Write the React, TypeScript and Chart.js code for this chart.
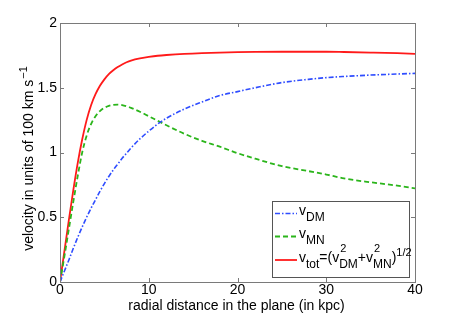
import React, { useEffect, useRef } from "react";
import { Chart, registerables } from "chart.js";

Chart.register(...registerables);

const radius = [0, 0.5, 1, 1.5, 2, 2.5, 3, 3.5, 4, 4.5, 5, 5.5, 6, 6.5, 7, 7.5, 8, 9, 10, 11, 12, 14, 16, 18, 20, 22, 25, 28, 30, 32, 35, 38, 40];
const vDM = [0, 0.085, 0.17, 0.26, 0.345, 0.425, 0.5, 0.57, 0.635, 0.7, 0.76, 0.815, 0.865, 0.91, 0.955, 0.995, 1.035, 1.105, 1.165, 1.22, 1.265, 1.335, 1.39, 1.44, 1.47, 1.5, 1.54, 1.565, 1.578, 1.587, 1.598, 1.606, 1.611];
const vMN = [0, 0.2, 0.41, 0.62, 0.82, 1.0, 1.13, 1.22, 1.28, 1.32, 1.345, 1.36, 1.368, 1.37, 1.366, 1.357, 1.345, 1.315, 1.28, 1.245, 1.21, 1.145, 1.09, 1.045, 0.995, 0.952, 0.895, 0.856, 0.83, 0.8, 0.77, 0.744, 0.723];
const vTot = [0, 0.24, 0.48, 0.71, 0.92, 1.1, 1.25, 1.365, 1.45, 1.515, 1.565, 1.605, 1.635, 1.66, 1.68, 1.697, 1.71, 1.727, 1.738, 1.747, 1.753, 1.762, 1.768, 1.772, 1.775, 1.777, 1.778, 1.778, 1.778, 1.776, 1.772, 1.767, 1.762];

const xTicks = [0, 10, 20, 30, 40];
const yTicks = [0, 0.5, 1, 1.5, 2];

const FONT = '"Liberation Sans", Arial, Helvetica, sans-serif';
const AXIS_COLOR = "#7a7a7a";
const BLUE = "#2f4dff";
const GREEN = "#2bb51b";
const RED = "#ff1a1a";

type Tok = { t: string; k: "n" | "sub" | "sup" | "ss"; sup?: string; sub?: string; off?: number };

function drawRich(ctx: CanvasRenderingContext2D, x: number, y: number, toks: Tok[]) {
  let cx = x;
  ctx.textBaseline = "alphabetic";
  ctx.textAlign = "left";
  ctx.fillStyle = "#000";
  for (const tk of toks) {
    if (tk.k === "n") {
      ctx.font = `14px ${FONT}`;
      ctx.fillText(tk.t, cx, y);
      cx += ctx.measureText(tk.t).width;
    } else if (tk.k === "sub") {
      ctx.font = `12px ${FONT}`;
      ctx.fillText(tk.t, cx, y + 6);
      cx += ctx.measureText(tk.t).width;
    } else if (tk.k === "sup") {
      ctx.font = `11px ${FONT}`;
      ctx.fillText(tk.t, cx, y + (tk.off ?? -6));
      cx += ctx.measureText(tk.t).width;
    } else {
      ctx.font = `11px ${FONT}`;
      ctx.fillText(tk.sup || "", cx + 1, y - 10);
      const w1 = ctx.measureText(tk.sup || "").width + 1;
      ctx.font = `12px ${FONT}`;
      ctx.fillText(tk.sub || "", cx, y + 6);
      const w2 = ctx.measureText(tk.sub || "").width;
      cx += Math.max(w1, w2);
    }
  }
}

const decorPlugin = {
  id: "decor",
  afterDraw(chart: any) {
    const ctx: CanvasRenderingContext2D = chart.ctx;
    const a = chart.chartArea;
    const xs = chart.scales.x;
    const ys = chart.scales.y;
    ctx.save();
    ctx.strokeStyle = AXIS_COLOR;
    ctx.lineWidth = 1;
    ctx.strokeRect(Math.round(a.left) + 0.5, Math.round(a.top) + 0.5, Math.round(a.right - a.left), Math.round(a.bottom - a.top));
    const tl = 4;
    ctx.beginPath();
    for (const v of xTicks) {
      const px = Math.round(xs.getPixelForValue(v)) + 0.5;
      ctx.moveTo(px, a.bottom);
      ctx.lineTo(px, a.bottom - tl);
      ctx.moveTo(px, a.top);
      ctx.lineTo(px, a.top + tl);
    }
    for (const v of yTicks) {
      const py = Math.round(ys.getPixelForValue(v)) + 0.5;
      ctx.moveTo(a.left, py);
      ctx.lineTo(a.left + tl, py);
      ctx.moveTo(a.right, py);
      ctx.lineTo(a.right - tl, py);
    }
    ctx.stroke();

    ctx.fillStyle = "#000";
    ctx.font = `14px ${FONT}`;
    ctx.textAlign = "center";
    ctx.textBaseline = "alphabetic";
    ctx.fillText("radial distance in the plane (in kpc)", (a.left + a.right) / 2 - 1, 310);

    ctx.save();
    ctx.translate(32.5, 159);
    ctx.rotate(-Math.PI / 2);
    const main = "velocity in units of 100 km s";
    ctx.font = `14px ${FONT}`;
    const wm = ctx.measureText(main).width;
    ctx.font = `11px ${FONT}`;
    const ws = ctx.measureText("\u22121").width;
    const start = -(wm + ws) / 2;
    ctx.textAlign = "left";
    ctx.font = `14px ${FONT}`;
    ctx.fillText(main, start, 0);
    ctx.font = `11px ${FONT}`;
    ctx.fillText("\u22121", start + wm + 1, -6);
    ctx.restore();

    const lx = 272.5, ly = 201.5, lw = 137, lh = 76;
    ctx.fillStyle = "#fff";
    ctx.fillRect(lx, ly, lw, lh);
    ctx.strokeStyle = "#555";
    ctx.strokeRect(lx, ly, lw, lh);
    const rows = [
      { color: BLUE, dash: [5, 2, 1.5, 2], width: 1.5, base: 215, toks: [{ t: "v", k: "n" }, { t: "DM", k: "sub" }] as Tok[] },
      { color: GREEN, dash: [5, 3], width: 1.8, base: 238, toks: [{ t: "v", k: "n" }, { t: "MN", k: "sub" }] as Tok[] },
      {
        color: RED, dash: [], width: 1.8, base: 261.5,
        toks: [
          { t: "v", k: "n" }, { t: "tot", k: "sub" }, { t: "=(v", k: "n" },
          { t: "", k: "ss", sup: "2", sub: "DM" }, { t: "+v", k: "n" },
          { t: "", k: "ss", sup: "2", sub: "MN" }, { t: ")", k: "n" }, { t: "1/2", k: "sup", off: -6 },
        ] as Tok[],
      },
    ];
    for (const r of rows) {
      ctx.save();
      ctx.strokeStyle = r.color;
      ctx.lineWidth = r.width;
      ctx.setLineDash(r.dash);
      ctx.beginPath();
      ctx.moveTo(275, r.base - 1.5);
      ctx.lineTo(297, r.base - 1.5);
      ctx.stroke();
      ctx.restore();
      drawRich(ctx, 299, r.base, r.toks);
    }
    ctx.restore();
  },
};

export default function App() {
  const ref = useRef<HTMLCanvasElement | null>(null);
  useEffect(() => {
    document.body.style.margin = "0";
    const mk = (vals: number[]) => radius.map((r, i) => ({ x: r, y: vals[i] }));
    const chart = new Chart(ref.current as HTMLCanvasElement, {
      type: "line",
      data: {
        datasets: [
          { label: "vDM", data: mk(vDM), borderColor: BLUE, borderWidth: 1.6, borderDash: [5, 2, 1.5, 2], pointRadius: 0, cubicInterpolationMode: "monotone", fill: false },
          { label: "vMN", data: mk(vMN), borderColor: GREEN, borderWidth: 1.8, borderDash: [5, 3], pointRadius: 0, cubicInterpolationMode: "monotone", fill: false },
          { label: "vtot", data: mk(vTot), borderColor: RED, borderWidth: 1.8, pointRadius: 0, cubicInterpolationMode: "monotone", fill: false },
        ],
      },
      options: {
        animation: false,
        responsive: true,
        maintainAspectRatio: false,
        layout: { padding: { left: 0, right: 43, top: 23, bottom: 0 } },
        plugins: { legend: { display: false }, tooltip: { enabled: false } },
        scales: {
          x: {
            type: "linear",
            min: 0,
            max: 40,
            afterBuildTicks: (s: any) => { s.ticks = xTicks.map((v) => ({ value: v })); },
            afterFit: (s: any) => { s.height = 36; },
            ticks: { color: "#000", font: { family: FONT, size: 14 }, padding: 0, maxRotation: 0, callback: (v: any) => String(v) },
            grid: { display: false, drawTicks: false },
            border: { display: false },
          },
          y: {
            type: "linear",
            min: 0,
            max: 2,
            afterBuildTicks: (s: any) => { s.ticks = yTicks.map((v) => ({ value: v })); },
            afterFit: (s: any) => { s.width = 60; },
            ticks: { color: "#000", font: { family: FONT, size: 14 }, padding: 3, callback: (v: any) => String(v) },
            grid: { display: false, drawTicks: false },
            border: { display: false },
          },
        },
      },
      plugins: [decorPlugin],
    } as any);
    return () => chart.destroy();
  }, []);
  return (
    <div style={{ position: "relative", width: 458, height: 318 }}>
      <canvas ref={ref} />
    </div>
  );
}
